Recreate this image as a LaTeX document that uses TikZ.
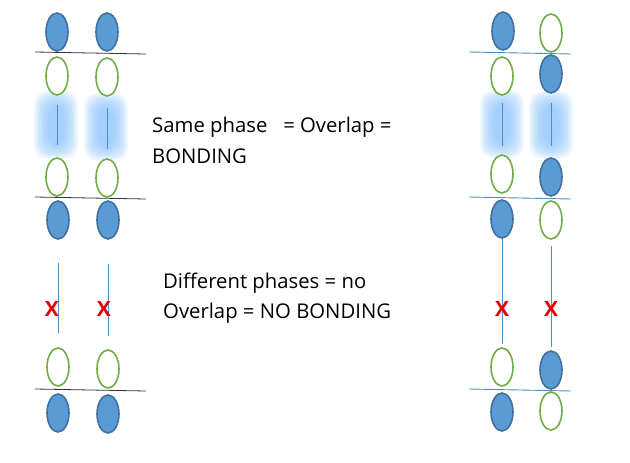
\documentclass[tikz,border=0pt]{standalone}
\usepackage{fontspec}
\setmainfont{Open Sans}
\usepackage{xcolor}
\usepackage{tikz}
\usetikzlibrary{shapes.geometric}

\definecolor{lobeblue}{RGB}{91,155,213}
\definecolor{lobeedge}{RGB}{65,113,156}
\definecolor{lobegreen}{RGB}{112,173,71}
\definecolor{glowblue}{RGB}{130,190,250}
\definecolor{crossred}{RGB}{230,0,0}

\begin{document}
\begin{tikzpicture}[x=1pt,y=-1pt,
  full/.style={ellipse,draw=lobeedge,line width=1.6pt,fill=lobeblue,minimum width=22pt,minimum height=38pt,inner sep=0pt},
  empty/.style={ellipse,draw=lobegreen,line width=1.6pt,fill=white,minimum width=22pt,minimum height=38pt,inner sep=0pt},
  node line/.style={line width=0.8pt,black!80},
  plane line/.style={line width=0.9pt,lobeblue!90!black},
  link/.style={line width=0.7pt,lobeblue!90!black},
  cross/.style={text=crossred,font=\fontsize{21}{21}\selectfont\bfseries},
  caption/.style={anchor=base west,inner sep=0pt,font=\fontsize{20.3}{24}\selectfont},
  glow/.style={fill=glowblue,opacity=0.1,rounded corners=13pt}]
\useasboundingbox (0,0) rectangle (630,463);

% soft glow where the lobes overlap
\foreach \cx/\cy in {56/125,106/127,502/124,551/125}
  \foreach \k in {0,...,11}
    \fill[glow] (\cx-22+\k*1.3,\cy-34+\k*1.3) rectangle (\cx+22-\k*1.3,\cy+34-\k*1.3);

% left pair
\node (lA1) at (57,32) [full] {};
\node (lA2) at (57,76) [empty] {};
\node (lA3) at (57,177) [empty] {};
\node (lA4) at (58,220) [full] {};
\node (lA5) at (58,367) [empty] {};
\node (lA6) at (58,413) [full] {};
\node (lB1) at (107,32) [full] {};
\node (lB2) at (107,77) [empty] {};
\node (lB3) at (107,178) [empty] {};
\node (lB4) at (108,220) [full] {};
\node (lB5) at (108,369) [empty] {};
\node (lB6) at (108,414) [full] {};

% right pair
\node (rA1) at (503,31) [full] {};
\node (rA2) at (502,76) [empty] {};
\node (rA3) at (502,174) [empty] {};
\node (rA4) at (502,219) [full] {};
\node (rA5) at (502,367) [empty] {};
\node (rA6) at (502,412) [full] {};
\node (rB1) at (551,33) [empty] {};
\node (rB2) at (551,74) [full] {};
\node (rB3) at (551,177) [full] {};
\node (rB4) at (551,220) [empty] {};
\node (rB5) at (551,370) [full] {};
\node (rB6) at (551,411) [empty] {};

% nodal planes
\coordinate (p1) at (35,52);   \coordinate (q1) at (146,54);
\coordinate (p2) at (35,197);  \coordinate (q2) at (146,199);
\coordinate (p3) at (35,389);  \coordinate (q3) at (146,391);
\coordinate (p4) at (469,52);  \coordinate (q4) at (571,54);
\coordinate (p5) at (469,197); \coordinate (q5) at (571,199);
\coordinate (p6) at (469,389); \coordinate (q6) at (571,391);
\draw[node line] (p1) -- (q1);
\draw[node line] (p2) -- (q2);
\draw[node line] (p3) -- (q3);
\draw[plane line] (p4) -- (q4);
\draw[plane line] (p5) -- (q5);
\draw[plane line] (p6) -- (q6);

% overlap links
\draw[link, shorten <=9pt, shorten >=12pt] (lA2) -- (lA3);
\draw[link, shorten <=11pt, shorten >=9pt] (lB2) -- (lB3);
\draw[link, shorten <=7pt, shorten >=8pt] (rA2) -- (rA3);
\draw[link, shorten <=9pt, shorten >=11pt] (rB2) -- (rB3);
\draw[link, shorten <=23pt, shorten >=14pt] (lA4) -- (lA5);
\draw[link, shorten <=24pt, shorten >=13pt] (lB4) -- (lB5);
\draw[link, shorten >=3pt] (rA4) -- (rA5);
\draw[link, shorten <=6pt, shorten >=3pt] (rB4) -- (rB5);

% crosses
\node (x1) at (52,309) [cross] {X};
\node (x2) at (104,309) [cross] {X};
\node (x3) at (502,309) [cross] {X};
\node (x4) at (551,309) [cross] {X};

% captions
\node (t1) at (152,132) [caption] {Same phase\ \ \ = Overlap =};
\node (t2) at (152,163) [caption] {BONDING};
\node (t3) at (163,288) [caption] {Different phases = no};
\node (t4) at (163,318) [caption] {Overlap = NO BONDING};
\end{tikzpicture}
\end{document}
